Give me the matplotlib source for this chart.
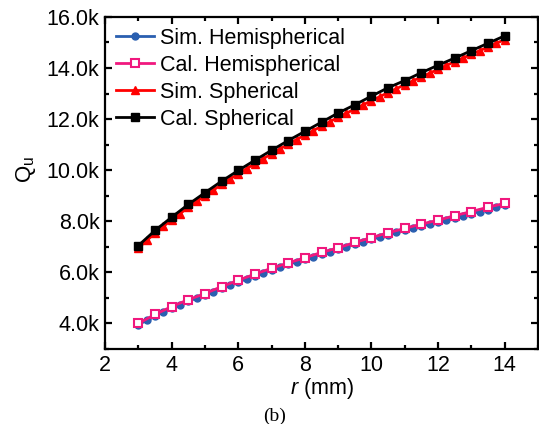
import numpy as np
import matplotlib
matplotlib.use("Agg")
import matplotlib.pyplot as plt
from matplotlib.ticker import MultipleLocator, FuncFormatter

plt.rcParams['font.family'] = ['Liberation Sans', 'DejaVu Sans']
plt.rcParams['mathtext.fontset'] = 'custom'
plt.rcParams['mathtext.rm'] = 'Liberation Sans'
plt.rcParams['mathtext.it'] = 'Liberation Sans:italic'

# radius in mm: calculated curves every 0.5 mm, simulated every 0.25 mm
r_cal = [3.0, 3.5, 4.0, 4.5, 5.0, 5.5, 6.0, 6.5, 7.0, 7.5, 8.0, 8.5,
         9.0, 9.5, 10.0, 10.5, 11.0, 11.5, 12.0, 12.5, 13.0, 13.5, 14.0]
r_sim = [3.0, 3.25, 3.5, 3.75, 4.0, 4.25, 4.5, 4.75, 5.0, 5.25, 5.5, 5.75,
         6.0, 6.25, 6.5, 6.75, 7.0, 7.25, 7.5, 7.75, 8.0, 8.25, 8.5, 8.75,
         9.0, 9.25, 9.5, 9.75, 10.0, 10.25, 10.5, 10.75, 11.0, 11.25, 11.5,
         11.75, 12.0, 12.25, 12.5, 12.75, 13.0, 13.25, 13.5, 13.75, 14.0]

# unloaded Q
cal_hemi = [4000, 4350, 4660, 4930, 5170, 5440, 5690, 5930, 6160, 6370, 6570, 6780,
            6960, 7170, 7360, 7550, 7720, 7890, 8040, 8220, 8380, 8550, 8700]
sim_hemi = [3950, 4120, 4290, 4450, 4600, 4740, 4870, 4990, 5110, 5240, 5370, 5500,
            5620, 5740, 5860, 5980, 6090, 6200, 6310, 6410, 6510, 6610, 6710, 6810,
            6900, 7000, 7100, 7200, 7290, 7380, 7470, 7560, 7650, 7730, 7810,
            7890, 7970, 8050, 8140, 8220, 8300, 8380, 8460, 8540, 8620]
cal_sph = [7050, 7640, 8160, 8660, 9120, 9570, 9990, 10390, 10780, 11160, 11520, 11880,
           12240, 12560, 12900, 13230, 13510, 13820, 14110, 14390, 14680, 14970, 15260]
sim_sph = [6950, 7250, 7530, 7800, 8050, 8300, 8540, 8780, 9000, 9220, 9440, 9650,
           9860, 10060, 10260, 10450, 10640, 10830, 11020, 11200, 11380, 11550, 11720, 11900,
           12070, 12230, 12400, 12560, 12720, 12880, 13040, 13190, 13350, 13500, 13650,
           13800, 13950, 14100, 14250, 14390, 14540, 14680, 14820, 14970, 15110]

fig = plt.figure(figsize=(5.39, 4.24), dpi=100)
ax = fig.add_axes([0.195, 0.177, 0.803, 0.783])

ax.plot(r_sim, sim_hemi, '-o', color='#2a5fb0', lw=2, ms=5, label='Sim. Hemispherical')
ax.plot(r_cal, cal_hemi, '-s', color='#f0187e', lw=2, ms=5.5, mfc='white', mew=1.5,
        label='Cal. Hemispherical')
ax.plot(r_sim, sim_sph, '-^', color='#ff0000', lw=2, ms=5.5, label='Sim. Spherical')
ax.plot(r_cal, cal_sph, '-s', color='black', lw=2, ms=5.5, label='Cal. Spherical')

ax.set_xlim(2, 15)
ax.set_ylim(3000, 16000)
ax.xaxis.set_major_locator(MultipleLocator(2))
ax.xaxis.set_minor_locator(MultipleLocator(1))
ax.yaxis.set_major_locator(MultipleLocator(2000))
ax.yaxis.set_minor_locator(MultipleLocator(1000))
ax.yaxis.set_major_formatter(FuncFormatter(lambda v, p: '%.1fk' % (v / 1000)))
ax.set_xticks([2, 4, 6, 8, 10, 12, 14])

for s in ax.spines.values():
    s.set_linewidth(1.6)
ax.tick_params(which='both', direction='in', top=True, right=True, labelsize=15.5, width=1.6)
ax.tick_params(which='major', length=5, pad=4)
ax.tick_params(which='minor', length=3)

ax.set_xlabel('$r$ (mm)', fontsize=15.5, labelpad=0)
fig.text(0.048, 0.60, '$\\mathregular{Q_u}$', rotation=90, fontsize=16, ha='center', va='center')

ax.legend(loc='upper left', frameon=False, fontsize=15.5, handlelength=1.75,
          handletextpad=0.3, labelspacing=0.28, borderaxespad=0.1,
          bbox_to_anchor=(0.0, 1.0))

fig.text(0.51, 0.008, '(b)', fontsize=14, family='Liberation Serif', ha='center')

plt.savefig('out.png', dpi=100)
